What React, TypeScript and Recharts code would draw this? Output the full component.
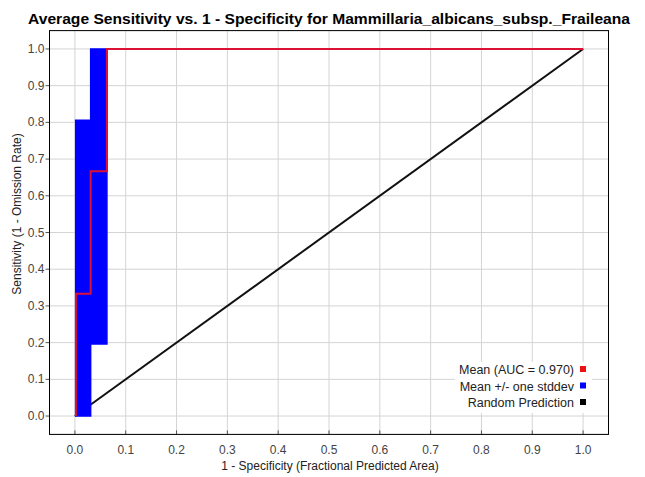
import React from "react";
import { ComposedChart, Line, Area, XAxis, YAxis, CartesianGrid } from "recharts";

// Tick values shared by both axes
const tickValues = [0, 0.1, 0.2, 0.3, 0.4, 0.5, 0.6, 0.7, 0.8, 0.9, 1.0];

// Mean ROC curve (stepped)
const meanX = [0.002, 0.002, 0.031, 0.031, 0.063, 0.063, 1.0];
const meanY = [0, 0.333, 0.333, 0.667, 0.667, 1.0, 1.0];

// Mean +/- one stddev band (step after)
const bandX = [0.0, 0.031, 0.063, 1.0];
const bandLow = [0, 0.196, 1.0, 1.0];
const bandHigh = [0.806, 1.0, 1.0, 1.0];

// Random prediction
const randX = [0, 1];
const randY = [0, 1];

const legendLabels = ["Mean (AUC = 0.970)", "Mean +/- one stddev", "Random Prediction"];
const legendColors = ["#ee1111", "#0000ff", "#000000"];

const meanData = meanX.map((x, i) => ({ x, y: meanY[i] }));
const bandData = bandX.map((x, i) => ({ x, band: [bandLow[i], bandHigh[i]] }));
const randData = randX.map((x, i) => ({ x, y: randY[i] }));

const FONT = "'Liberation Sans', Arial, sans-serif";

const BottomTick = (props: any) => {
  const { x, y, payload } = props;
  return (
    <g>
      <line x1={x} x2={x} y1={y} y2={y - 4} stroke="#555" strokeWidth={1} />
      <text x={x} y={y + 20} textAnchor="middle" fontSize={12} fill="#444" fontFamily={FONT}>
        {Number(payload.value).toFixed(1)}
      </text>
    </g>
  );
};

const TopTick = (props: any) => {
  const { x, y } = props;
  return <line x1={x} x2={x} y1={y} y2={y + 4} stroke="#555" strokeWidth={1} />;
};

const RightTick = (props: any) => {
  const { x, y } = props;
  return <line x1={x} x2={x - 4} y1={y} y2={y} stroke="#555" strokeWidth={1} />;
};

const LeftTick = (props: any) => {
  const { x, y, payload } = props;
  return (
    <g>
      <line x1={x} x2={x + 4} y1={y} y2={y} stroke="#555" strokeWidth={1} />
      <text x={x - 1} y={y + 4} textAnchor="end" fontSize={12} fill="#444" fontFamily={FONT}>
        {Number(payload.value).toFixed(1)}
      </text>
    </g>
  );
};

export default function App() {
  return (
    <div style={{ position: "absolute", left: 0, top: 0, width: 645, height: 477, background: "#fff" }}>
      <ComposedChart
        width={645}
        height={477}
        margin={{ top: 30.6, right: 36.5, bottom: 12.6, left: 0 }}
      >
        <CartesianGrid stroke="#d4d4d4" strokeWidth={1} xAxisId="b" yAxisId="l" />
        <XAxis
          xAxisId="b"
          dataKey="x"
          type="number"
          domain={[-0.05, 1.05]}
          ticks={tickValues}
          allowDataOverflow
          height={30}
          axisLine={false}
          tickLine={false}
          tickSize={0}
          tickMargin={0}
          tick={<BottomTick />}
          interval={0}
        />
        <XAxis
          xAxisId="t"
          orientation="top"
          dataKey="x"
          type="number"
          domain={[-0.05, 1.05]}
          ticks={tickValues}
          allowDataOverflow
          height={0}
          axisLine={false}
          tickLine={false}
          tickSize={0}
          tickMargin={0}
          tick={<TopTick />}
          interval={0}
        />
        <YAxis
          yAxisId="l"
          type="number"
          domain={[-0.05, 1.05]}
          ticks={tickValues}
          allowDataOverflow
          width={49.5}
          axisLine={false}
          tickLine={false}
          tickSize={4}
          tickMargin={0}
          tick={<LeftTick />}
          interval={0}
        />
        <YAxis
          yAxisId="r"
          orientation="right"
          type="number"
          domain={[-0.05, 1.05]}
          ticks={tickValues}
          allowDataOverflow
          width={0}
          axisLine={false}
          tickLine={false}
          tickSize={0}
          tickMargin={0}
          tick={<RightTick />}
          interval={0}
        />
        <Area
          xAxisId="b"
          yAxisId="l"
          data={randData}
          dataKey="y"
          type="linear"
          stroke="#111"
          strokeWidth={2}
          fill="none"
          baseValue={0}
          dot={false}
          activeDot={false}
          isAnimationActive={false}
        />
        <Area
          xAxisId="b"
          yAxisId="l"
          data={bandData}
          dataKey="band"
          type="stepAfter"
          stroke="#0000ff"
          strokeWidth={1.5}
          fill="#0000ff"
          fillOpacity={1}
          dot={false}
          activeDot={false}
          isAnimationActive={false}
        />
        <Line
          xAxisId="b"
          yAxisId="l"
          data={meanData}
          dataKey="y"
          type="linear"
          stroke="#dd1133"
          strokeWidth={2}
          dot={false}
          isAnimationActive={false}
        />
      </ComposedChart>
      <svg
        width={645}
        height={477}
        style={{ position: "absolute", left: 0, top: 0, pointerEvents: "none" }}
      >
        <rect x={49.5} y={30.6} width={559} height={403.8} fill="none" stroke="#000" strokeWidth={1} />
        <text
          x={329}
          y={24}
          textAnchor="middle"
          fontSize={15}
          fontWeight="bold"
          fill="#000"
          fontFamily={FONT}
          textLength={602}
          lengthAdjust="spacingAndGlyphs"
        >
          Average Sensitivity vs. 1 - Specificity for Mammillaria_albicans_subsp._Fraileana
        </text>
        <text x={330} y={470} textAnchor="middle" fontSize={12} fill="#222" fontFamily={FONT}>
          1 - Specificity (Fractional Predicted Area)
        </text>
        <text
          x={21}
          y={214}
          textAnchor="middle"
          fontSize={12}
          fill="#222"
          fontFamily={FONT}
          transform="rotate(-90 21 214)"
        >
          Sensitivity (1 - Omission Rate)
        </text>
        <rect x={455} y={362} width={137} height={51} fill="#fff" />
        {legendLabels.map((label, i) => (
          <g key={label}>
            <text
              x={574}
              y={374 + i * 16.5}
              textAnchor="end"
              fontSize={12.5}
              fill="#222"
              fontFamily={FONT}
            >
              {label}
            </text>
            <rect x={580} y={366 + i * 16.5} width={6} height={6} fill={legendColors[i]} />
          </g>
        ))}
      </svg>
    </div>
  );
}
